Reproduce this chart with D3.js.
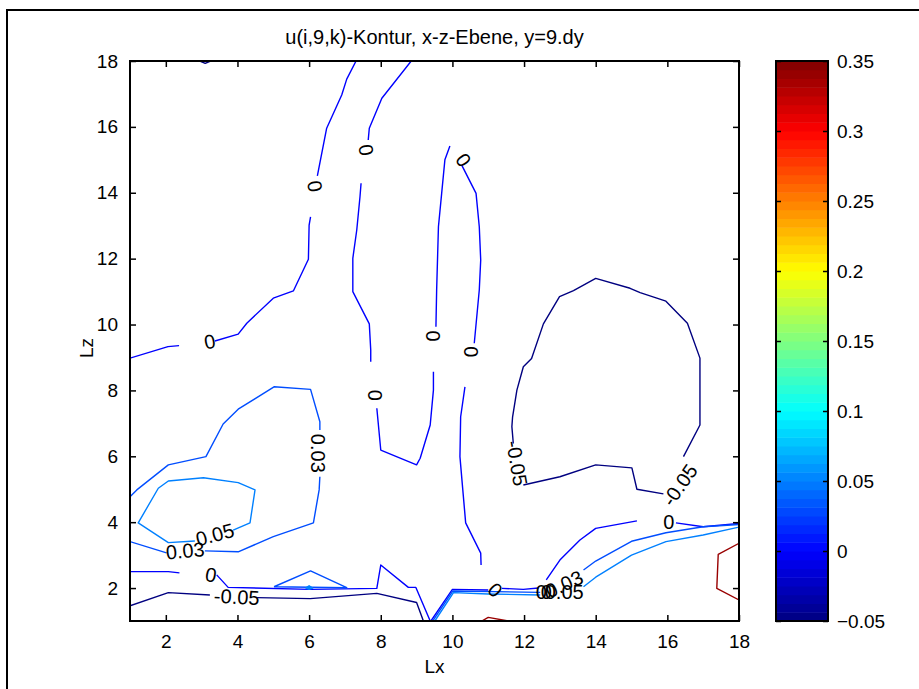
<!DOCTYPE html>
<html>
<head>
<meta charset="utf-8">
<script src="https://cdn.jsdelivr.net/npm/d3@7"></script>
<style>
  body { margin: 0; background: #fff; }
  text { font-family: "Liberation Sans", Arial, sans-serif; }
</style>
</head>
<body>
<script>
// axis ticks
var xTicks = [2, 4, 6, 8, 10, 12, 14, 16, 18];
var zTicks = [2, 4, 6, 8, 10, 12, 14, 16, 18];
var colorTicks = [-0.05, 0, 0.05, 0.1, 0.15, 0.2, 0.25, 0.3, 0.35];

// contour pieces, [Lx, Lz] (gaps are where labels sit)
// level -0.05
var m05Top = [[2.95, 18], [3.1, 17.93], [3.25, 18]];
var m05Low1 = [[1, 1.46], [2.07, 1.86], [3.23, 1.79]];
var m05Low2 = [[4.54, 1.71], [6.03, 1.68], [7.89, 1.84], [9.0, 1.56], [9.19, 1.0]];
var m05Loop = [[11.70, 6.39], [11.66, 6.90], [11.68, 7.20], [11.80, 8.01], [11.98, 8.72], [12.21, 8.97],
  [12.54, 10.02], [12.99, 10.85], [13.38, 11.03], [14.0, 11.40], [14.96, 11.10], [15.24, 10.97],
  [15.96, 10.71], [16.56, 10.04], [16.91, 8.98], [16.91, 6.95], [16.45, 5.99]];
var m05Base = [[15.89, 4.86], [15.15, 5.0], [15.01, 5.65], [14.0, 5.74], [13.0, 5.38], [11.98, 5.13]];
// level 0
var z0West1 = [[1, 8.98], [2.06, 9.33], [2.37, 9.36]];
var z0West2 = [[3.37, 9.50], [4.02, 9.71], [4.26, 10.04], [5.0, 10.80], [5.56, 11.02], [5.98, 11.98],
  [6.0, 13.02], [6.04, 13.27]];
var z0West3 = [[6.23, 14.51], [6.49, 15.96], [6.91, 16.97], [7.05, 17.45], [7.31, 18]];
var z0Mid1 = [[8.85, 18], [8.03, 16.87], [7.68, 15.96], [7.65, 15.60]];
var z0Mid2 = [[7.45, 14.29], [7.42, 13.88], [7.33, 12.87], [7.22, 12.01], [7.22, 11.0], [7.68, 10.02],
  [7.72, 9.23], [7.72, 8.87]];
var z0Mid3 = [[7.89, 7.46], [8.0, 6.19], [8.49, 5.97], [9.0, 5.74], [9.10, 5.94], [9.38, 6.95],
  [9.47, 8.01], [9.47, 8.57]];
var z0Mid4 = [[9.54, 9.93], [9.56, 11.05], [9.61, 12.97], [9.70, 13.98], [9.79, 15.0], [9.93, 15.42]];
var z0Mid5 = [[10.26, 14.84], [10.66, 13.98], [10.75, 12.97], [10.79, 11.96], [10.75, 11.05], [10.61, 9.43]];
var z0Mid6 = [[10.35, 8.11], [10.23, 7.20], [10.21, 5.99], [10.29, 4.98], [10.37, 3.98], [10.79, 3.06],
  [10.80, 2.70]];
var z0Low1 = [[1, 2.50], [2.07, 2.50], [2.38, 2.46]];
var z0Low2 = [[3.42, 2.40], [3.74, 2.02], [6.03, 1.96], [7.89, 1.99], [8.0, 2.70], [8.77, 2.02],
  [8.98, 2.02], [9.38, 1.0]];
var z0East1 = [[9.40, 1.0], [10.0, 1.96], [11.0, 1.94]];
var z0East2 = [[11.38, 1.99], [11.98, 1.96], [12.40, 2.0]];
var z0East3 = [[12.62, 2.25], [13.0, 2.85], [13.56, 3.46], [14.0, 3.81], [15.15, 4.04]];
var z0East4 = [[16.24, 3.98], [17.0, 3.86], [18, 3.96]];
// level 0.03
var a03Blob1 = [[1, 4.77], [1.19, 4.98], [2.07, 5.74], [3.12, 5.99], [3.60, 6.98], [4.02, 7.43],
  [5.02, 8.11], [6.04, 8.03], [6.30, 7.05], [6.30, 6.80]];
var a03Blob2 = [[6.30, 5.38], [6.28, 4.98], [6.12, 3.98], [5.0, 3.56], [4.02, 3.10], [3.09, 3.13]];
var a03Blob3 = [[2.02, 3.07], [1, 3.41]];
var a03Tri = [[5.02, 2.04], [6.04, 2.52], [7.05, 2.01], [5.02, 2.04]];
var a03Low1 = [[9.45, 1.0], [10.01, 1.91], [12.45, 1.87]];
var a03Low2 = [[13.66, 2.55], [14.0, 2.82], [15.0, 3.42], [15.96, 3.68], [17.0, 3.86], [18, 3.93]];
// level 0.05
var b05Blob = [[3.88, 3.76], [4.35, 3.98], [4.49, 4.98], [4.02, 5.20], [3.05, 5.35], [2.07, 5.25],
  [1.79, 5.03], [1.23, 3.98], [2.07, 3.38], [2.81, 3.43]];
var b05Dot = [[5.9, 2.0], [6.0, 2.07], [6.1, 2.0], [6.0, 1.96], [5.9, 2.0]];
var b05Low1 = [[9.51, 1.0], [10.03, 1.86], [11.0, 1.82], [12.45, 1.79]];
var b05Low2 = [[13.66, 2.04], [14.0, 2.33], [15.0, 3.0], [15.96, 3.41], [17.0, 3.61], [18, 3.85]];
// level 0.34
var r34Low = [[10.82, 1.0], [11.0, 1.11], [11.56, 1.0]];
var r34East = [[18, 3.36], [17.42, 3.02], [17.38, 1.99], [18, 1.64]];

var contours = [
  {level: -0.05, pts: m05Top}, {level: -0.05, pts: m05Low1}, {level: -0.05, pts: m05Low2},
  {level: -0.05, pts: m05Loop}, {level: -0.05, pts: m05Base},
  {level: 0, pts: z0West1}, {level: 0, pts: z0West2}, {level: 0, pts: z0West3},
  {level: 0, pts: z0Mid1}, {level: 0, pts: z0Mid2}, {level: 0, pts: z0Mid3},
  {level: 0, pts: z0Mid4}, {level: 0, pts: z0Mid5}, {level: 0, pts: z0Mid6},
  {level: 0, pts: z0Low1}, {level: 0, pts: z0Low2},
  {level: 0, pts: z0East1}, {level: 0, pts: z0East2}, {level: 0, pts: z0East3}, {level: 0, pts: z0East4},
  {level: 0.03, pts: a03Blob1}, {level: 0.03, pts: a03Blob2}, {level: 0.03, pts: a03Blob3},
  {level: 0.03, pts: a03Tri}, {level: 0.03, pts: a03Low1}, {level: 0.03, pts: a03Low2},
  {level: 0.05, pts: b05Blob}, {level: 0.05, pts: b05Low1}, {level: 0.05, pts: b05Low2},
  {level: 0.05, pts: b05Dot, fill: true},
  {level: 0.34, pts: r34Low}, {level: 0.34, pts: r34East}
];

// clabel texts: [Lx, Lz, text, rotation]
var contourLabels = [
  [3.23, 9.48, "0", -10], [6.16, 14.2, "0", 80], [7.59, 15.3, "0", 80],
  [7.84, 7.85, "0", 90], [9.46, 9.65, "0", 90], [10.31, 14.99, "0", 55], [10.52, 9.17, "0", 90],
  [6.26, 6.09, "0.03", 90], [2.54, 3.13, "0.03", -5], [3.37, 3.62, "0.05", -15],
  [3.98, 1.73, "-0.05", 3], [3.26, 2.40, "0", 10],
  [11.80, 5.79, "-0.05", 80], [16.35, 5.13, "-0.05", -55], [16.04, 4.01, "0", 0],
  [11.19, 1.94, "0", 45],
  [12.48, 1.88, "0", 0], [12.62, 1.88, "0", 0], [13.12, 1.88, "0.05", 0], [13.12, 2.12, "0.03", -25]
];

var W = 919, H = 689;
var plot = {left: 130, right: 739, top: 61, bottom: 621};
var cbar = {left: 776, right: 828};

var svg = d3.select("body").append("svg")
  .attr("width", W)
  .attr("height", H);

// figure frame
svg.append("rect")
  .attr("x", 7).attr("y", 10)
  .attr("width", 1000).attr("height", 1000)
  .style("fill", "none").style("stroke", "#000").style("stroke-width", 2);

var xScale = d3.scaleLinear().domain([1, 18]).range([plot.left, plot.right]);
var zScale = d3.scaleLinear().domain([1, 18]).range([plot.bottom, plot.top]);
var cScale = d3.scaleLinear().domain([-0.05, 0.35]).range([plot.bottom, plot.top]);

function clamp(v) { return Math.max(0, Math.min(1, v)); }
function jet(t) {
  var r = clamp(Math.min(4 * t - 1.5, -4 * t + 4.5)),
    g = clamp(Math.min(4 * t - 0.5, -4 * t + 3.5)),
    b = clamp(Math.min(4 * t + 0.5, -4 * t + 2.5));
  return d3.rgb(r * 255, g * 255, b * 255).toString();
}
function levelColor(v) { return jet((v - cScale.domain()[0]) / (cScale.domain()[1] - cScale.domain()[0])); }

var line = d3.line()
  .x(d => xScale(d[0]))
  .y(d => zScale(d[1]));

svg.append("clipPath").attr("id", "clip")
  .append("rect")
  .attr("x", plot.left).attr("y", plot.top)
  .attr("width", plot.right - plot.left).attr("height", plot.bottom - plot.top);

// contour lines
svg.append("g")
  .attr("clip-path", "url(#clip)")
  .selectAll("path")
  .data(contours)
  .enter().append("path")
  .attr("d", c => line(c.pts))
  .style("fill", c => c.fill ? levelColor(c.level) : "none")
  .style("stroke", c => levelColor(c.level))
  .style("stroke-width", 1.4)
  .style("stroke-linejoin", "round");

// contour labels
svg.append("g")
  .selectAll("text")
  .data(contourLabels)
  .enter().append("text")
  .attr("transform", d => "translate(" + xScale(d[0]) + "," + zScale(d[1]) + ") rotate(" + d[3] + ")")
  .attr("text-anchor", "middle")
  .attr("dy", "0.35em")
  .style("font-size", "20px")
  .text(d => d[2]);

// axes, ticks pointing in, box all round
var tickLen = 6;
var xAxis = d3.axisBottom(xScale).tickValues(xTicks).tickSizeInner(-tickLen).tickSizeOuter(0).tickPadding(14);
var zAxis = d3.axisLeft(zScale).tickValues(zTicks).tickSizeInner(-tickLen).tickSizeOuter(0).tickPadding(12);

svg.append("g").attr("transform", "translate(0," + plot.bottom + ")").call(xAxis);
svg.append("g").attr("transform", "translate(" + plot.left + ",0)").call(zAxis);
svg.append("g").attr("transform", "translate(0," + plot.top + ")")
  .call(d3.axisTop(xScale).tickValues(xTicks).tickSizeInner(-tickLen).tickSizeOuter(0).tickFormat(""));
svg.append("g").attr("transform", "translate(" + plot.right + ",0)")
  .call(d3.axisRight(zScale).tickValues(zTicks).tickSizeInner(-tickLen).tickSizeOuter(0).tickFormat(""));

svg.append("rect")
  .attr("x", plot.left).attr("y", plot.top)
  .attr("width", plot.right - plot.left).attr("height", plot.bottom - plot.top)
  .style("fill", "none").style("stroke", "#000").style("stroke-width", 2);

// titles
svg.append("text")
  .attr("x", (plot.left + plot.right) / 2).attr("y", 44)
  .attr("text-anchor", "middle")
  .style("font-size", "20px")
  .text("u(i,9,k)-Kontur, x-z-Ebene, y=9.dy");

svg.append("text")
  .attr("x", (plot.left + plot.right) / 2).attr("y", 673)
  .attr("text-anchor", "middle")
  .style("font-size", "19px")
  .text("Lx");

svg.append("text")
  .attr("transform", "translate(93," + 348 + ") rotate(-90)")
  .attr("text-anchor", "middle")
  .style("font-size", "19px")
  .text("Lz");

// colorbar, 64 jet bands
var nBands = 64;
var cLo = cScale.domain()[0], cHi = cScale.domain()[1];
var bands = d3.range(nBands).map(i => ({
  lo: cLo + (cHi - cLo) * i / nBands,
  hi: cLo + (cHi - cLo) * (i + 1) / nBands,
  t: (i + 0.5) / nBands
}));
svg.append("g")
  .selectAll("rect")
  .data(bands)
  .enter().append("rect")
  .attr("x", cbar.left)
  .attr("y", b => cScale(b.hi))
  .attr("width", cbar.right - cbar.left)
  .attr("height", b => cScale(b.lo) - cScale(b.hi) + 0.5)
  .style("fill", b => jet(b.t));

var cAxis = d3.axisRight(cScale).tickValues(colorTicks).tickSizeInner(-5).tickSizeOuter(0).tickPadding(9)
  .tickFormat(d => d3.format("")(+d.toFixed(2)));
svg.append("g").attr("transform", "translate(" + cbar.right + ",0)").call(cAxis);
svg.append("g").attr("transform", "translate(" + cbar.left + ",0)")
  .call(d3.axisLeft(cScale).tickValues(colorTicks).tickSizeInner(-5).tickSizeOuter(0).tickFormat(""));

svg.append("rect")
  .attr("x", cbar.left).attr("y", plot.top)
  .attr("width", cbar.right - cbar.left).attr("height", plot.bottom - plot.top)
  .style("fill", "none").style("stroke", "#000").style("stroke-width", 2);

svg.selectAll(".domain").remove();
svg.selectAll(".tick line").style("stroke", "#000").style("stroke-width", 1.5);
svg.selectAll(".tick text")
  .style("font-family", "'Liberation Sans', Arial, sans-serif")
  .style("font-size", "19px")
  .style("fill", "#000");
</script>
</body>
</html>
